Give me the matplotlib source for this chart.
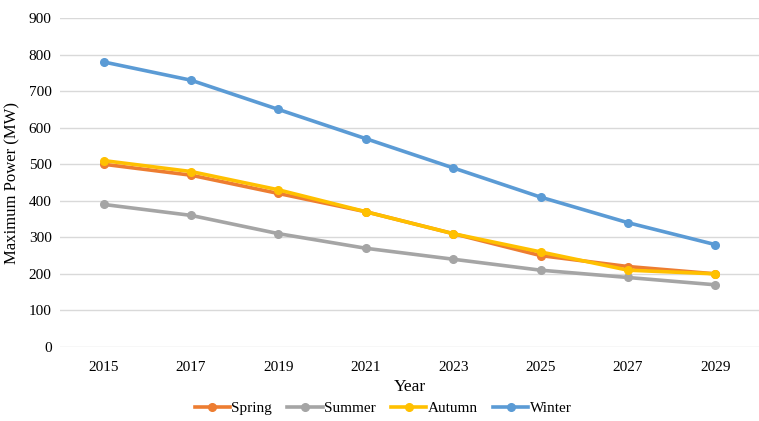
import matplotlib.pyplot as plt
from matplotlib.lines import Line2D

years = ['2015', '2017', '2019', '2021', '2023', '2025', '2027', '2029']
spring = [500, 470, 420, 370, 310, 250, 220, 200]
summer = [390, 360, 310, 270, 240, 210, 190, 170]
autumn = [510, 480, 430, 370, 310, 260, 210, 200]
winter = [780, 730, 650, 570, 490, 410, 340, 280]

plt.rcParams['font.family'] = ['Liberation Serif', 'DejaVu Serif']

fig = plt.figure(figsize=(7.59, 4.21), dpi=100)
ax = fig.add_axes([0.079, 0.176, 0.921, 0.781])

series = [('Spring', spring, '#ED7D31'),
          ('Summer', summer, '#A5A5A5'),
          ('Autumn', autumn, '#FFC000'),
          ('Winter', winter, '#5B9BD5')]

x = range(len(years))
for name, vals, col in series:
    ax.plot(x, vals, '-o', color=col, lw=2.6, ms=5.5, label=name,
            solid_capstyle='round')

ax.set_xlim(-0.5, len(years) - 0.5)
ax.set_ylim(0, 900)
ax.set_yticks(range(0, 901, 100))
ax.set_xticks(list(x))
ax.set_xticklabels(years)
ax.grid(axis='y', color='#D9D9D9', lw=1)
ax.set_axisbelow(True)
for s in ax.spines.values():
    s.set_visible(False)
ax.tick_params(length=0, labelsize=11, pad=6)
ax.tick_params(axis='x', pad=10)

ax.set_xlabel('Year', fontsize=12.5, labelpad=4)
ax.set_ylabel('Maximum Power (MW)', fontsize=12, labelpad=6)

handles = [Line2D([], [], color=col, lw=2.6, marker='o', ms=5.5)
           for _, _, col in series]
fig.legend(handles, [s[0] for s in series], loc='center',
           bbox_to_anchor=(0.505, 0.03), ncol=4, frameon=False,
           fontsize=11, handlelength=2.3, columnspacing=1.0,
           handletextpad=0.1)

fig.savefig('out.png', dpi=100)
